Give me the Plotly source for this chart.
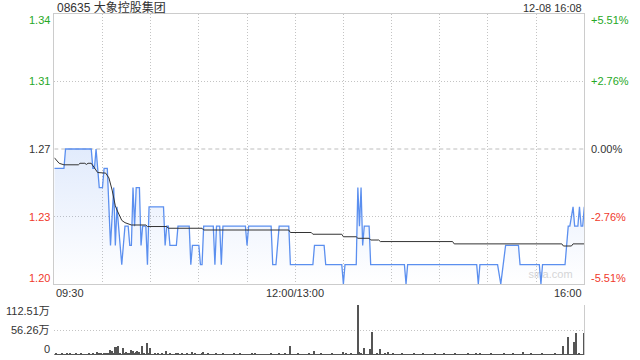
import plotly.graph_objects as go

# ---------------- data ----------------
stock_title = "08635 大象控股集团"
stamp = "12-08 16:08"
prev_close = 1.27

# price polyline vertices (minute index since 09:30, lunch removed) and price (HKD)
price_t = [0, 6, 7, 23, 24, 25, 26, 27, 28, 30, 31, 33, 35, 37, 38, 39, 40, 41, 42, 43, 44, 46, 47, 48,
           49, 50, 51, 53, 54, 55, 57, 58, 59, 68, 69, 70, 71, 72, 76, 77, 84, 85, 86, 90, 91, 92, 93,
           99, 100, 101, 103, 104, 105, 119, 120, 121, 135, 136, 138, 140, 146, 147, 161, 162, 168, 169,
           179, 180, 181, 188, 189, 190, 191, 192, 193, 196, 197, 218, 219, 220, 263, 264, 265, 276, 278,
           281, 289, 290, 302, 303, 304, 318, 320, 321, 323, 324, 326, 327, 328, 329, 330]
price_v = [1.26, 1.26, 1.27, 1.27, 1.26, 1.26, 1.27, 1.26, 1.25, 1.25, 1.26, 1.26, 1.22, 1.25, 1.22, 1.24,
           1.23, 1.22, 1.21, 1.22, 1.23, 1.23, 1.22, 1.22,
           1.25, 1.23, 1.25, 1.25, 1.22, 1.23, 1.23, 1.21, 1.24, 1.24, 1.22, 1.23, 1.23, 1.22, 1.22, 1.23,
           1.23, 1.21, 1.22, 1.22, 1.21, 1.21, 1.23,
           1.23, 1.21, 1.23, 1.23, 1.21, 1.23, 1.23, 1.22, 1.23, 1.23, 1.21, 1.21, 1.23, 1.23, 1.21, 1.21,
           1.22, 1.22, 1.21,
           1.21, 1.20, 1.21, 1.21, 1.25, 1.23, 1.25, 1.22, 1.23, 1.23, 1.21, 1.21, 1.20, 1.21, 1.21, 1.20,
           1.21, 1.21, 1.20,
           1.22, 1.22, 1.21, 1.21, 1.20, 1.21, 1.21, 1.23, 1.23, 1.24, 1.23, 1.23, 1.24, 1.23, 1.23, 1.24]

# average price line vertices
avg_t = [0, 3, 6, 15, 16, 19, 20, 21, 23, 25, 27, 32, 34, 36, 38, 39, 42, 44, 46, 48, 57, 58, 70, 71,
         92, 93, 146, 147, 160, 161, 179, 180, 188, 189, 196, 197, 202, 203, 248, 249, 316, 317, 322,
         323, 330]
avg_v = [1.2655, 1.2626, 1.2618, 1.2618, 1.2626, 1.2626, 1.2620, 1.2626, 1.2626, 1.2600, 1.2578, 1.2575,
         1.2550, 1.2487, 1.2405, 1.2384, 1.2330, 1.2318, 1.2312, 1.2306, 1.2306, 1.2298, 1.2298, 1.2289,
         1.2289, 1.2280, 1.2280, 1.2267, 1.2267, 1.2258, 1.2258, 1.2245, 1.2245, 1.2237, 1.2237, 1.2228,
         1.2228, 1.2220, 1.2220, 1.2208, 1.2208, 1.2197, 1.2197, 1.2208, 1.2208]

# per-minute volume (万 shares), minute 0..330
volume = [
    2, 4, 2, 1, 2, 3, 2, 2, 4, 2, 3, 2, 1, 2, 4, 2, 2, 3, 2, 1, 2, 2, 4, 2, 3, 2, 2, 7.5, 4, 3,
    2, 4, 3, 3, 4, 12, 10, 4, 19, 17, 19.5, 4, 2, 15, 3, 6, 3, 4, 12, 8, 3, 7.5, 8, 7.5, 2, 19.5, 4, 2, 26, 4,
    15, 2, 2, 3, 2, 4.5, 2, 4, 2, 2, 10, 2, 3, 2, 2, 2, 4, 4.5, 2, 2, 3, 2, 2, 4, 2, 2, 7.5, 2, 3, 2,
    2, 2, 4, 7.5, 2, 2, 3, 2, 1, 2, 2, 4, 2, 2, 2, 3, 2, 2, 1, 2, 2, 2, 4, 2, 2, 2, 3, 2, 2, 2,
    2, 2, 2, 4, 2, 3, 2, 2, 2, 2, 2, 2, 1, 2, 2, 3, 2, 2, 2, 2, 3, 2, 2, 2, 3, 2, 2, 21, 2, 2,
    2, 2, 3, 2, 2, 2, 2, 2, 2, 3, 2, 2, 10, 2, 2, 2, 3, 2, 2, 2, 2, 2, 2, 3, 2, 2, 2, 2, 2, 2,
    7.5, 2, 4.5, 2, 2, 3, 2, 2, 2, 112.51, 6, 4, 2, 16.5, 2, 2, 2, 13.5, 52.5, 2, 2, 4, 2, 13.5, 2, 2, 4, 2, 7.5, 2,
    2, 3, 2, 2, 2, 2, 2, 3, 2, 2, 2, 2, 2, 2, 3, 2, 2, 2, 2, 2, 3, 2, 2, 2, 2, 2, 2, 3, 2, 2,
    2, 2, 2, 3, 2, 2, 2, 2, 2, 2, 3, 2, 2, 2, 2, 2, 2, 2, 3, 2, 2, 2, 2, 4, 2, 4, 2, 2, 2, 2,
    2, 2, 3, 2, 2, 2, 2, 2, 2, 2, 3.5, 2, 2, 2, 2, 2, 3, 2, 2, 2, 2, 2, 6, 2, 2, 2, 2, 3, 2, 2,
    2, 2, 2, 2, 3, 2, 2, 2, 2, 2, 2, 2, 3, 2, 2, 2, 2, 21, 2, 2, 40, 2, 2, 2, 28.5, 49, 2, 3, 2, 2,
    49,
]
volume_t = list(range(len(volume)))

price_ticks = [1.20, 1.235, 1.27, 1.305, 1.34]
price_labels = ["1.20", "1.23", "1.27", "1.31", "1.34"]
pct_labels = ["-5.51%", "-2.76%", "0.00%", "+2.76%", "+5.51%"]
vol_ticks = [0, 56.26, 112.51]
vol_labels = ["0", "56.26万", "112.51万"]
time_ticks = [0, 150, 330]
time_labels = ["09:30", "12:00/13:00", "16:00"]
grid_minutes = [30, 60, 90, 120, 150, 180, 210, 240, 270, 300]

# ---------------- style ----------------
W, H = 640, 360
X0, X1 = 54.3, 584.3
MAIN_TOP, MAIN_BOT = 14, 284
VOL_TOP, VOL_BOT = 305, 355
FONT = "Liberation Sans, Arial, Noto Sans CJK SC, sans-serif"
GRID = "#c4c4c4"
GRID_DASH = "1px,2px"
BORDER = "#cccccc"
UP = "#26a826"
DOWN = "#f0392b"
BLUE = "#5b8fef"

fig = go.Figure()

# watermark under lines
fig.add_trace(go.Scatter(x=[309], y=[1.2045], mode="text", text=["sina.com"],
                         textfont=dict(family=FONT, size=11, color="#d6d6d6"),
                         xaxis="x", yaxis="y", hoverinfo="skip", showlegend=False))

fig.add_trace(go.Scatter(
    x=price_t, y=price_v, mode="lines",
    line=dict(color=BLUE, width=1.3),
    fill="tozeroy",
    fillgradient=dict(type="vertical",
                      colorscale=[[0, "rgba(91,143,239,0.0)"], [1, "rgba(91,143,239,0.18)"]],
                      start=price_ticks[0], stop=prev_close),
    xaxis="x", yaxis="y", hoverinfo="skip", showlegend=False))

fig.add_trace(go.Scatter(
    x=avg_t, y=avg_v, mode="lines", line=dict(color="#333333", width=1),
    xaxis="x", yaxis="y", hoverinfo="skip", showlegend=False))

fig.add_trace(go.Bar(
    x=volume_t, y=volume, width=0.65, marker=dict(color="#555555", line=dict(width=0)),
    xaxis="x2", yaxis="y2", hoverinfo="skip", showlegend=False))

# previous close dashed line
fig.add_shape(type="line", xref="x", yref="y", x0=0, x1=330, y0=prev_close, y1=prev_close,
              line=dict(color="#bdbdbd", width=1, dash="4px,3px"), layer="below")

dom_x = [X0 / W, X1 / W]
fig.update_layout(
    width=W, height=H, margin=dict(l=0, r=0, t=0, b=0),
    paper_bgcolor="white", plot_bgcolor="white",
    font=dict(family=FONT, size=11, color="#333333"),
    bargap=0,
    xaxis=dict(domain=dom_x, range=[0, 330], tickvals=grid_minutes, showticklabels=False,
               showgrid=True, gridcolor=GRID, griddash=GRID_DASH, gridwidth=1,
               showline=True, linecolor=BORDER, linewidth=1, mirror=True, zeroline=False,
               ticks="", anchor="y"),
    yaxis=dict(domain=[(H - MAIN_BOT) / H, (H - MAIN_TOP) / H], range=[price_ticks[0], price_ticks[-1]],
               tickvals=[price_ticks[1], price_ticks[3]], showticklabels=False,
               showgrid=True, gridcolor=GRID, griddash=GRID_DASH,
               showline=True, linecolor=BORDER, linewidth=1, mirror=True, zeroline=False,
               ticks="", anchor="x"),
    xaxis2=dict(domain=dom_x, range=[0, 330], showticklabels=False, showgrid=False,
                showline=False, zeroline=False, ticks="", anchor="y2"),
    yaxis2=dict(domain=[(H - VOL_BOT) / H, (H - VOL_TOP) / H], range=[0, vol_ticks[-1]],
                tickvals=vol_ticks[1:], showticklabels=False, showgrid=True,
                gridcolor=GRID, griddash=GRID_DASH, side="right",
                showline=True, linecolor=BORDER, linewidth=1, zeroline=False,
                ticks="", anchor="x2"),
)

ann = []
# title and timestamp
ann.append(dict(text=stock_title, xref="paper", yref="paper", x=X0 / W + 0.001, y=(H - 7.5) / H,
                xanchor="left", yanchor="middle", showarrow=False,
                font=dict(size=12, color="#333333")))
ann.append(dict(text=stamp, xref="paper", yref="paper", x=X1 / W, y=(H - 7.5) / H,
                xanchor="right", yanchor="middle", showarrow=False,
                font=dict(size=11, color="#333333")))

# price / percent labels
for i, (v, lab, pct) in enumerate(zip(price_ticks, price_labels, pct_labels)):
    if v > prev_close:
        col = UP
    elif v < prev_close:
        col = DOWN
    else:
        col = "#333333"
    shift = 6 if i == 0 else (-6 if i == len(price_ticks) - 1 else 0)
    ann.append(dict(text=lab, xref="paper", yref="y", x=51.5 / W, y=v, yshift=shift,
                    xanchor="right", yanchor="middle", showarrow=False,
                    font=dict(size=11, color=col)))
    ann.append(dict(text=pct, xref="paper", yref="y", x=589 / W, y=v, yshift=shift,
                    xanchor="left", yanchor="middle", showarrow=False,
                    font=dict(size=11, color=col)))

# volume labels
for i, (v, lab) in enumerate(zip(vol_ticks, vol_labels)):
    shift = 6 if i == 0 else (-6 if i == len(vol_ticks) - 1 else 0)
    ann.append(dict(text=lab, xref="paper", yref="y2", x=51.5 / W, y=v, yshift=shift,
                    xanchor="right", yanchor="middle", showarrow=False,
                    font=dict(size=11, color="#333333")))

# time labels
anchors = ["left", "center", "right"]
for t, lab, a in zip(time_ticks, time_labels, anchors):
    ann.append(dict(text=lab, xref="x", yref="paper", x=t, y=(H - 293) / H,
                    xanchor=a, yanchor="middle", showarrow=False,
                    font=dict(size=11, color="#333333")))

fig.update_layout(annotations=ann)
fig.write_html("out.html")
